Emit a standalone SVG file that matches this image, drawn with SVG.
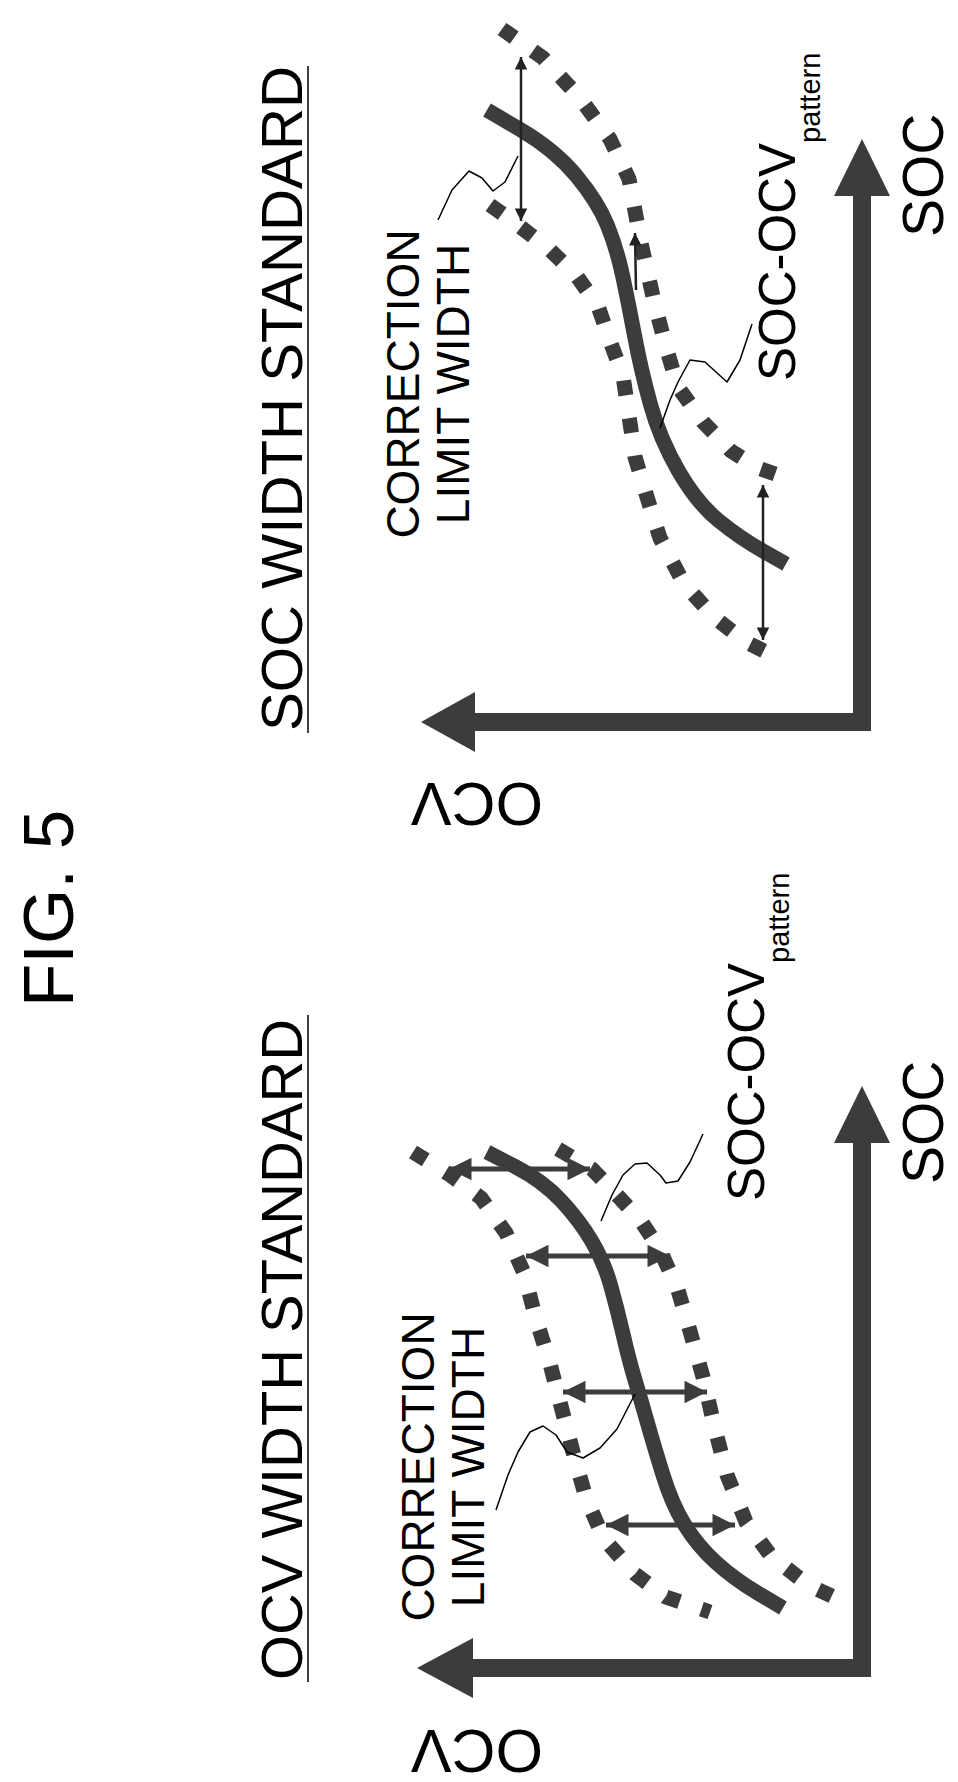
<svg xmlns="http://www.w3.org/2000/svg" width="958" height="1782" viewBox="0 0 958 1782">
<style>
text{font-family:"Liberation Sans",Arial,sans-serif;fill:#000}
.axis{fill:none;stroke:#3c3c3c;stroke-width:18}
.head{fill:#3c3c3c}
.solid{fill:none;stroke:#3c3c3c;stroke-width:15;stroke-linejoin:round}
.dot{fill:none;stroke:#3c3c3c;stroke-width:15;stroke-dasharray:15 23}
.lead{fill:none;stroke:#000;stroke-width:1.5;stroke-linejoin:round}
.thin{stroke:#222;stroke-width:2.5;marker-start:url(#ah);marker-end:url(#ah)}
.thin1{stroke:#222;stroke-width:2.5;marker-end:url(#ah)}
.thick{stroke:#3c3c3c;stroke-width:5;marker-start:url(#ahb);marker-end:url(#ahb)}
.ul{stroke:#000;stroke-width:1.5}
</style>
<defs>
<marker id="ah" viewBox="0 0 10 10" refX="10" refY="5" markerWidth="6.5" markerHeight="5" markerUnits="strokeWidth" orient="auto-start-reverse"><path d="M0,0 L10,5 L0,10 z" fill="#222"/></marker>
<marker id="ahb" viewBox="0 0 10 10" refX="10" refY="5" markerWidth="5" markerHeight="4.5" markerUnits="strokeWidth" orient="auto-start-reverse"><path d="M0,0 L10,5 L0,10 z" fill="#3c3c3c"/></marker>
</defs>
<g id="fig-title"><text transform="translate(73,1007) rotate(-90)" font-size="71">FIG. 5</text></g>

<g id="top-graph">
<g id="top-title"><text transform="translate(302,731) rotate(-90)" font-size="58" textLength="665" lengthAdjust="spacingAndGlyphs">SOC WIDTH STANDARD</text><line class="ul" x1="308" y1="66" x2="308" y2="733"/></g>
<g id="top-axes"><polyline class="axis" points="862,196 862,722 472,722"/><polygon class="head" points="862,139 834,196 890,196"/><polygon class="head" points="421,722 475,692 475,752"/></g>
<g id="top-ocv"><text transform="translate(543,783) rotate(180)" font-size="61">OCV</text></g>
<g id="top-soc"><text transform="translate(943,237) rotate(-90)" font-size="57">SOC</text></g>
<g id="top-curves">
<polyline class="dot" points="502,29 543,58 580,98 610,139 629,179 641,243 654,301 666,347 678,387 703,422 731,451 758,468 792,480"/>
<polyline class="dot" points="490,205 518,225 549,249 576,275 598,306 610,341 623,376 629,416 635,457 647,497 660,538 684,584 715,618 746,642 780,659"/>
<path class="solid" d="M487,110 L521,130 Q555,150 576.5,176 Q598,202 607.5,225.5 Q617,249 623,277.5 Q629,306 635,338 Q641,370 650.5,404.5 Q660,439 678.5,471 Q697,503 718.5,520.5 Q740,538 763,551 L786,564"/>
</g>
<g id="top-connectors">
<line class="thin" x1="521" y1="57" x2="521" y2="221"/>
<line class="thin1" x1="636" y1="290" x2="635" y2="233"/>
<line class="thin" x1="763" y1="485" x2="763" y2="640"/>
<polyline class="lead" points="438,220 452,190 469,171 482,178 493,191 505,182 518,156"/>
<polyline class="lead" points="660,428 670,400 678,382 690,360 705,362 727,382 740,360 752,324"/>
</g>
<g id="top-labels">
<text transform="translate(419,384) rotate(-90)" font-size="46" text-anchor="middle">CORRECTION</text>
<text transform="translate(469,384) rotate(-90)" font-size="46" text-anchor="middle">LIMIT WIDTH</text>
<text transform="translate(795,381) rotate(-90)" font-size="51">SOC-OCV<tspan font-size="29" dy="25">pattern</tspan></text>
</g>
</g>

<g id="bottom-graph">
<g id="bottom-title"><text transform="translate(302,1680) rotate(-90)" font-size="58" textLength="661" lengthAdjust="spacingAndGlyphs">OCV WIDTH STANDARD</text><line class="ul" x1="308" y1="1015" x2="308" y2="1682"/></g>
<g id="bottom-axes"><polyline class="axis" points="862,1143 862,1668 472,1668"/><polygon class="head" points="862,1086 834,1143 890,1143"/><polygon class="head" points="417,1668 473,1638 473,1698"/></g>
<g id="bottom-ocv"><text transform="translate(543,1730) rotate(180)" font-size="61">OCV</text></g>
<g id="bottom-soc"><text transform="translate(943,1184) rotate(-90)" font-size="57">SOC</text></g>
<g id="bottom-curves">
<polyline class="dot" points="413,1152 450,1175 481,1198 506,1233 524,1273 536,1319 549,1360 561,1406 573,1452 586,1498 604,1539 635,1574 666,1597 710,1612"/>
<polyline class="dot" points="558,1149 592,1169 617,1195 641,1221 660,1250 678,1290 690,1331 703,1377 715,1429 727,1475 746,1522 771,1556 808,1585 851,1605"/>
<path class="solid" d="M487,1152 L515,1166.5 Q543,1181 561.5,1201 Q580,1221 592,1241.5 Q604,1262 610.5,1285 Q617,1308 623,1334 Q629,1360 635,1380 Q641,1400 647.5,1423 Q654,1446 663,1475 Q672,1504 684.5,1524.5 Q697,1545 715.5,1562 Q734,1579 758.5,1593.5 L783,1608"/>
</g>
<g id="bottom-connectors">
<line class="thick" x1="449" y1="1169" x2="590" y2="1169"/>
<line class="thick" x1="526" y1="1256" x2="670" y2="1256"/>
<line class="thick" x1="563" y1="1392" x2="707" y2="1392"/>
<line class="thick" x1="606" y1="1525" x2="735" y2="1525"/>
<polyline class="lead" points="496,1510 508,1475 518,1452 530,1432 543,1426 556,1435 567,1452 583,1458 600,1448 617,1429 635,1394"/>
<polyline class="lead" points="601,1221 612,1195 623,1175 635,1164 647,1163 660,1175 666,1183 678,1181 690,1162 703,1134"/>
</g>
<g id="bottom-labels">
<text transform="translate(434,1467) rotate(-90)" font-size="46" text-anchor="middle">CORRECTION</text>
<text transform="translate(484,1467) rotate(-90)" font-size="46" text-anchor="middle">LIMIT WIDTH</text>
<text transform="translate(764,1201) rotate(-90)" font-size="51">SOC-OCV<tspan font-size="29" dy="25">pattern</tspan></text>
</g>
</g>
</svg>
